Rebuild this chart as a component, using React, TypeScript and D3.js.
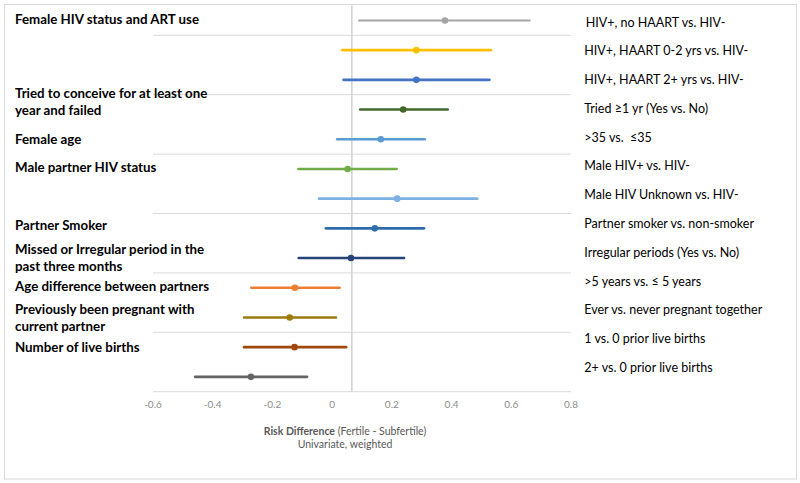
import React from "react";
import * as d3 from "d3";

const comparisons = [
  "HIV+, no HAART vs. HIV-",
  "HIV+, HAART 0-2 yrs vs. HIV-",
  "HIV+, HAART 2+ yrs vs. HIV-",
  "Tried ≥1 yr (Yes vs. No)",
  ">35 vs.  ≤35",
  "Male HIV+ vs. HIV-",
  "Male HIV Unknown vs. HIV-",
  "Partner smoker vs. non-smoker",
  "Irregular periods (Yes vs. No)",
  ">5 years vs. ≤ 5 years",
  "Ever vs. never pregnant together",
  "1 vs. 0 prior live births",
  "2+ vs. 0 prior live births",
];
const estimate = [0.378, 0.282, 0.282, 0.238, 0.163, 0.052, 0.218, 0.143, 0.063, -0.125, -0.142, -0.126, -0.272];
const lower = [0.09, 0.034, 0.038, 0.094, 0.017, -0.113, -0.044, -0.021, -0.112, -0.271, -0.295, -0.295, -0.459];
const upper = [0.662, 0.532, 0.527, 0.387, 0.31, 0.216, 0.486, 0.308, 0.241, 0.025, 0.013, 0.047, -0.084];
const referenceValue = 0.066;

const groupLabels = [
  ["Female HIV status and ART use"],
  ["Tried to conceive for at least one", "year and failed"],
  ["Female age"],
  ["Male partner HIV status"],
  ["Partner Smoker"],
  ["Missed or Irregular period in the", "past three months"],
  ["Age difference between partners"],
  ["Previously been pregnant with", "current partner"],
  ["Number of live births"],
];
const groupRow = [0, 3, 4, 5, 7, 8, 9, 10, 11];

const xTicks = [-0.6, -0.4, -0.2, 0, 0.2, 0.4, 0.6, 0.8];

const colors = [
  "#A5A5A5", "#FFC000", "#4472C4", "#43682B", "#5B9BD5", "#70AD47", "#7DB0E3",
  "#2E6DAD", "#264478", "#ED7D31", "#9C7A0E", "#9E480E", "#636363",
];
const groupDy = [-1.4, -8, 0, -2, -3, -0.8, -2, 0.3, 0];

export default function App() {
  const W = 800, H = 483;
  const x = d3.scaleLinear().domain([-0.6, 0.8]).range([153, 571]);
  const y = d3.scaleLinear().domain([0, 13]).range([391.7, 5.6]);
  const rowY = (i: number) => y(12.5 - i);
  const labelY = d3.scaleLinear().domain([0, 12]).range([22, 367.5]);
  const gridVals = d3.range(0, 13, 2);
  const font = "Lato, 'Open Sans', sans-serif";
  const lineH = 17.3;

  return (
    <svg width={W} height={H} style={{ position: "absolute", left: 0, top: 0, background: "#fff" }} fontFamily={font}>
      <rect x={4.5} y={4.5} width={792} height={474.5} fill="#fff" stroke="#d9d9d9" strokeWidth={1} />
      {gridVals.map((g) => (
        <line key={g} x1={x(-0.6)} x2={x(0.8)} y1={y(g)} y2={y(g)} stroke="#d9d9d9" strokeWidth={1} />
      ))}
      <line x1={x(referenceValue)} x2={x(referenceValue)} y1={y(0)} y2={y(13)} stroke="#d0d0d0" strokeWidth={1.5} />
      {xTicks.map((t) => (
        <text key={t} x={x(t)} y={404} textAnchor="middle" dominantBaseline="central" fontSize={10} fill="#8c8c8c">
          {t === 0 ? "0" : String(t)}
        </text>
      ))}
      {estimate.map((v, i) => (
        <g key={i}>
          <line x1={x(lower[i])} x2={x(upper[i])} y1={rowY(i)} y2={rowY(i)} stroke={colors[i]} strokeWidth={i === 0 ? 2 : 2.6} strokeLinecap="round" />
          <circle cx={x(v)} cy={rowY(i)} r={3.3} fill={colors[i]} />
        </g>
      ))}
      {comparisons.map((c, i) => (
        <text key={c} x={i === 0 ? 585.7 : 584.3} y={labelY(i)} dominantBaseline="central" fontSize={12.5} fill="#000" style={{ whiteSpace: "pre" }}>
          {c}
        </text>
      ))}
      {groupLabels.map((lines, gi) => {
        const cy = rowY(groupRow[gi]) + groupDy[gi];
        const y0 = cy - ((lines.length - 1) * lineH) / 2;
        return (
          <text key={gi} fontSize={13.3} fontWeight="bold" fill="#000">
            {lines.map((l, li) => (
              <tspan key={li} x={15} y={y0 + li * lineH} dominantBaseline="central">{l}</tspan>
            ))}
          </text>
        );
      })}
      <text x={345} y={431} textAnchor="middle" dominantBaseline="central" fontSize={10.5} fill="#595959">
        <tspan fontWeight="bold">Risk Difference</tspan>
        <tspan> (Fertile - Subfertile)</tspan>
      </text>
      <text x={345} y={444} textAnchor="middle" dominantBaseline="central" fontSize={10.5} fill="#595959">
        Univariate, weighted
      </text>
    </svg>
  );
}
